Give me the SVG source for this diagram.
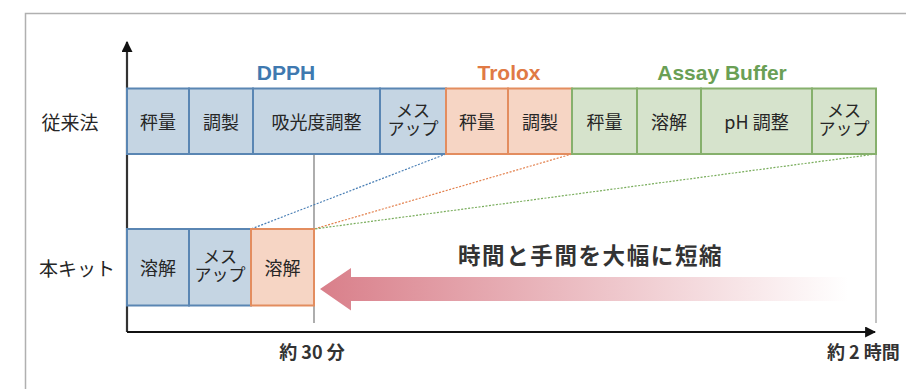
<svg xmlns="http://www.w3.org/2000/svg" width="906" height="389" viewBox="0 0 906 389">
<style>
.box{stroke-width:2}
.b{fill:#c5d5e3;stroke:#5a86b3}
.o{fill:#f6d5c4;stroke:#e38d5f}
.g{fill:#d6e3cc;stroke:#86b06c}
.t{font-family:"Noto Sans CJK JP","Liberation Sans",sans-serif;font-size:18px;fill:#262626;text-anchor:middle;dominant-baseline:central}
.t2{font-family:"Noto Sans CJK JP","Liberation Sans",sans-serif;font-size:17px;fill:#262626;text-anchor:middle}
.h{font-family:"Liberation Sans",Arial,sans-serif;font-weight:bold;font-size:21px;text-anchor:middle}
.lbl{font-family:"Noto Sans CJK JP",sans-serif;font-size:19px;fill:#262626;text-anchor:middle;dominant-baseline:central}
.ax{font-family:"Noto Sans CJK JP","Liberation Sans",sans-serif;font-weight:bold;font-size:18px;fill:#333}
.dot{fill:none;stroke-width:1.2;stroke-dasharray:2 1.5}
</style>
<defs>
<linearGradient id="grad" x1="0" y1="0" x2="1" y2="0">
<stop offset="0" stop-color="#d97f8a"/>
<stop offset="1" stop-color="#ffffff"/>
</linearGradient>
<marker id="ah" viewBox="0 0 10 10" refX="9" refY="5" markerWidth="5" markerHeight="5" orient="auto-start-reverse" markerUnits="strokeWidth">
<path d="M0,0 L10,5 L0,10 z" fill="#111"/>
</marker>
</defs>
<rect width="906" height="389" fill="#fff"/>
<path d="M25.5,389 V13.5 H906" fill="none" stroke="#b0b0b0" stroke-width="1.5"/>

<g id="labels">
<text class="lbl" x="70" y="121">従来法</text>
<text class="lbl" x="77" y="267">本キット</text>
<text class="h" x="286" y="80" fill="#3f79b0">DPPH</text>
<text class="h" x="509" y="80" fill="#e07a45">Trolox</text>
<text class="h" x="722" y="80" fill="#6a9f55">Assay Buffer</text>
<text class="ax" x="312" y="359" text-anchor="middle">約 30 分</text>
<text class="ax" x="827" y="359">約 2 時間</text>
</g>

<g id="connectors">
<line x1="314" y1="154" x2="314" y2="323" stroke="#777" stroke-width="1.2"/>
<line x1="876" y1="154" x2="876" y2="323" stroke="#999" stroke-width="1.2"/>
<line class="dot" x1="446" y1="154" x2="251" y2="229" stroke="#4a7fb5"/>
<line class="dot" x1="572" y1="154" x2="314" y2="229" stroke="#e3824f"/>
<line class="dot" x1="876" y1="154" x2="314" y2="229" stroke="#79ad5c"/>
<line x1="127" y1="332" x2="127" y2="42" stroke="#333" stroke-width="2.2" marker-end="url(#ah)"/>
<line x1="127" y1="332" x2="875" y2="332" stroke="#111" stroke-width="2.2" marker-end="url(#ah)"/>
</g>

<g id="row1-dpph">
<rect class="box b" x="127" y="88.5" width="62" height="65.5"/><text class="t" x="158" y="121">秤量</text>
<rect class="box b" x="189" y="88.5" width="64" height="65.5"/><text class="t" x="221" y="121">調製</text>
<rect class="box b" x="253" y="88.5" width="127" height="65.5"/><text class="t" x="316.5" y="121">吸光度調整</text>
<rect class="box b" x="380" y="88.5" width="66" height="65.5"/><text class="t2" x="413" y="116.5">メス<tspan x="413" dy="18.5">アップ</tspan></text>
</g>
<g id="row1-trolox">
<rect class="box o" x="446" y="88.5" width="62" height="65.5"/><text class="t" x="477" y="121">秤量</text>
<rect class="box o" x="508" y="88.5" width="64" height="65.5"/><text class="t" x="540" y="121">調製</text>
</g>
<g id="row1-buffer">
<rect class="box g" x="572" y="88.5" width="65" height="65.5"/><text class="t" x="604.5" y="121">秤量</text>
<rect class="box g" x="637" y="88.5" width="64" height="65.5"/><text class="t" x="669" y="121">溶解</text>
<rect class="box g" x="701" y="88.5" width="111" height="65.5"/><text class="t" x="756.5" y="121">pH 調整</text>
<rect class="box g" x="812" y="88.5" width="64" height="65.5"/><text class="t2" x="844" y="116.5">メス<tspan x="844" dy="18.5">アップ</tspan></text>
</g>

<g id="row2-kit">
<rect class="box b" x="127" y="229" width="62" height="76.5"/><text class="t" x="158" y="267">溶解</text>
<rect class="box b" x="189" y="229" width="62" height="76.5"/><text class="t2" x="220" y="262.5">メス<tspan x="220" dy="18.5">アップ</tspan></text>
<rect class="box o" x="251" y="229" width="63" height="76.5"/><text class="t" x="282.5" y="267">溶解</text>
</g>

<g id="reduction">
<path d="M320,289 L351,268 L351,277 L848,277 L848,301 L351,301 L351,310.5 Z" fill="url(#grad)"/>
<text x="458" y="264" font-family="Noto Sans CJK JP,sans-serif" font-weight="bold" font-size="22.5px" fill="#333" letter-spacing="1.6">時間と手間を大幅に短縮</text>
</g>
</svg>
